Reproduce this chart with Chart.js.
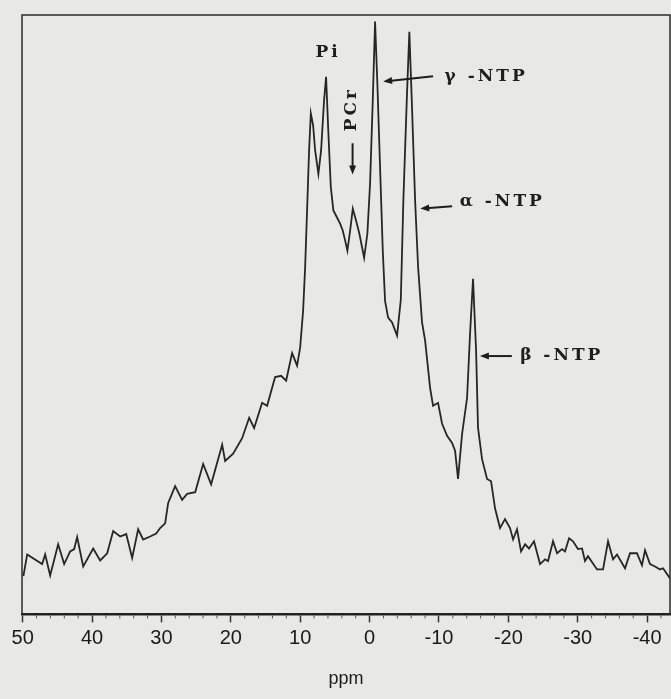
<!DOCTYPE html>
<html>
<head>
<meta charset="utf-8">
<script src="https://cdn.jsdelivr.net/npm/chart.js@4.4.0/dist/chart.umd.min.js"></script>
<style>
  html, body { margin: 0; background: #e8e8e6; }
  #wrap { width: 671px; height: 699px; }
</style>
</head>
<body>
<div id="wrap"><canvas id="spec"></canvas></div>
<script>
// chemical shift (ppm) and signal intensity
const ppm = [49.9, 49.35, 47.2, 46.76, 46.04, 44.89, 44.02, 43.16, 42.58, 42.15, 41.28, 39.84, 38.83, 37.82,
  36.96, 35.95, 35.08, 34.22, 33.36, 32.64, 31.63, 30.76, 30.19, 29.47, 29.03, 28.03, 27.02, 26.3, 25.14,
  23.99, 22.84, 21.25, 20.82, 19.67, 18.37, 17.36, 16.64, 15.49, 14.77, 13.62, 12.75, 12.03, 11.17, 10.45,
  10.01, 9.58, 9.29, 8.96, 8.72, 8.47, 8.14, 7.85, 7.38, 6.99, 6.56, 6.27, 5.94, 5.59, 5.22, 4.73, 4.25,
  3.86, 3.53, 3.2, 2.81, 2.42, 1.95, 1.47, 0.79, 0.32, -0.07, -0.46, -0.79, -1.12, -1.51, -1.9, -2.23,
  -2.67, -3.24, -3.96, -4.5, -4.87, -5.36, -5.73, -6.08, -6.56, -6.99, -7.56, -8.0, -8.72, -9.15, -9.87,
  -10.45, -11.17, -11.89, -12.32, -12.75, -13.33, -14.05, -14.48, -14.91, -15.35, -15.63, -16.21, -16.93,
  -17.51, -18.08, -18.8, -19.52, -20.24, -20.68, -21.25, -21.83, -22.41, -22.98, -23.7, -24.57, -25.29,
  -25.72, -26.44, -27.02, -27.74, -28.17, -28.75, -29.32, -30.04, -30.62, -31.05, -31.48, -32.78, -33.65,
  -34.37, -35.09, -35.66, -36.82, -37.54, -38.54, -39.26, -39.7, -40.42, -41.14, -41.86, -42.3, -43.3];
const intensity = [6.4, 10.0, 8.4, 10.0, 6.5, 11.7, 8.4, 10.5, 10.9, 12.9, 8.0, 11.0, 9.0, 10.2,
  13.9, 13.0, 13.4, 9.4, 14.2, 12.5, 13.0, 13.5, 14.4, 15.2, 18.6, 21.4, 19.1, 20.1, 20.4,
  25.1, 21.7, 28.3, 25.6, 26.8, 29.4, 32.8, 31.1, 35.3, 34.8, 39.6, 39.8, 39.0, 43.6, 41.5,
  44.5, 50.7, 57.9, 69.1, 77.4, 83.6, 81.6, 77.4, 73.5, 77.4, 85.8, 89.7, 80.3, 71.3, 67.4, 66.3, 65.2,
  64.0, 62.4, 60.7, 64.0, 67.7, 65.7, 63.5, 59.5, 63.5, 71.9, 85.8, 98.9, 88.6, 74.6, 60.7, 52.3,
  49.5, 48.7, 46.5, 52.5, 69.1, 85.8, 97.2, 85.8, 69.1, 58.0, 48.7, 45.7, 37.8, 34.8, 35.3,
  31.8, 29.8, 28.6, 27.3, 22.6, 30.1, 36.1, 46.8, 56.0, 44.0, 31.1, 25.9, 22.6,
  22.2, 17.7, 14.4, 15.9, 14.4, 12.5, 14.2, 10.5, 11.7, 11.0, 12.2, 8.4, 9.2,
  8.9, 12.2, 10.2, 10.9, 10.5, 12.7, 12.2, 10.9, 11.0, 8.9, 9.7, 7.5, 7.5,
  12.2, 9.2, 10.0, 7.7, 10.2, 10.2, 8.2, 10.7, 8.4, 8.0, 7.5, 7.7, 6.0];
const xTicks = [50, 40, 30, 20, 10, 0, -10, -20, -30, -40];

// peak labels and arrows, in ppm / intensity
const notes = [
  { text: 'Pi', x: 5.98, y: 93.8, rot: 0, align: 'center' },
  { text: 'PCr', x: 2.6, y: 84.3, rot: -Math.PI / 2, align: 'center' },
  { text: 'γ -NTP', x: -10.8, y: 89.8, rot: 0, align: 'left' },
  { text: 'α -NTP', x: -13.0, y: 68.9, rot: 0, align: 'left' },
  { text: 'β -NTP', x: -21.7, y: 43.1, rot: 0, align: 'left' }
];
const arrows = [
  [[2.45, 78.6], [2.45, 73.4]],
  [[-9.15, 89.8], [-1.95, 88.9]],
  [[-11.9, 68.1], [-7.3, 67.7]],
  [[-20.5, 43.1], [-15.9, 43.1]]
];

const frame = {
  id: 'frame',
  afterDraw(chart) {
    const { ctx, chartArea: a, scales: { x, y } } = chart;
    ctx.save();
    ctx.strokeStyle = '#2b2b2b';
    ctx.lineWidth = 1.5;
    ctx.beginPath();
    ctx.moveTo(a.left, a.bottom);
    ctx.lineTo(a.left, a.top);
    ctx.lineTo(a.right, a.top);
    ctx.lineTo(a.right, a.bottom);
    ctx.stroke();

    // minor ticks every 2 ppm
    ctx.lineWidth = 1;
    ctx.strokeStyle = '#555';
    for (let v = -42; v <= 50; v += 2) {
      if (v % 10 === 0) continue;
      const px = x.getPixelForValue(v);
      ctx.beginPath();
      ctx.moveTo(px, a.bottom + 1);
      ctx.lineTo(px, a.bottom + 4);
      ctx.stroke();
    }

    ctx.fillStyle = '#1e1e1e';
    ctx.strokeStyle = '#1e1e1e';
    ctx.lineWidth = 2;
    arrows.forEach(([from, to]) => {
      const x0 = x.getPixelForValue(from[0]), y0 = y.getPixelForValue(from[1]);
      const x1 = x.getPixelForValue(to[0]), y1 = y.getPixelForValue(to[1]);
      const ang = Math.atan2(y1 - y0, x1 - x0);
      ctx.beginPath();
      ctx.moveTo(x0, y0);
      ctx.lineTo(x1 - 6 * Math.cos(ang), y1 - 6 * Math.sin(ang));
      ctx.stroke();
      ctx.beginPath();
      ctx.moveTo(x1, y1);
      ctx.lineTo(x1 - 9 * Math.cos(ang) + 3.5 * Math.sin(ang), y1 - 9 * Math.sin(ang) - 3.5 * Math.cos(ang));
      ctx.lineTo(x1 - 9 * Math.cos(ang) - 3.5 * Math.sin(ang), y1 - 9 * Math.sin(ang) + 3.5 * Math.cos(ang));
      ctx.closePath();
      ctx.fill();
    });

    ctx.font = 'bold 17px "DejaVu Serif"';
    ctx.letterSpacing = '3px';
    ctx.textBaseline = 'middle';
    notes.forEach(n => {
      ctx.save();
      ctx.translate(x.getPixelForValue(n.x), y.getPixelForValue(n.y));
      ctx.rotate(n.rot);
      ctx.textAlign = n.align;
      ctx.fillText(n.text, 0, 0);
      ctx.restore();
    });
    ctx.restore();
  }
};

new Chart(document.getElementById('spec'), {
  type: 'line',
  data: {
    datasets: [{
      data: ppm.map((v, i) => ({ x: v, y: intensity[i] })),
      borderColor: '#262626',
      borderWidth: 1.8,
      pointRadius: 0,
      tension: 0,
      fill: false
    }]
  },
  options: {
    responsive: true,
    maintainAspectRatio: false,
    animation: false,
    layout: { padding: { left: 22, right: 1, top: 15, bottom: 0 } },
    plugins: { legend: { display: false }, tooltip: { enabled: false } },
    scales: {
      x: {
        type: 'linear',
        reverse: true,
        min: -43.3,
        max: 50.1,
        afterBuildTicks: s => { s.ticks = xTicks.map(v => ({ value: v })); },
        grid: { drawOnChartArea: false, drawTicks: true, tickLength: 8, tickColor: '#333', tickWidth: 1.5 },
        border: { display: true, color: '#222', width: 2.5 },
        ticks: { autoSkip: false, maxRotation: 0, padding: 4, color: '#1a1a1a',
                 font: { family: '"Liberation Sans", Arial, sans-serif', size: 20 } },
        title: { display: true, text: 'ppm', color: '#1a1a1a', padding: { top: 14, bottom: 9 },
                 font: { family: '"Liberation Sans", Arial, sans-serif', size: 18 } }
      },
      y: { display: false, min: 0, max: 100 }
    }
  },
  plugins: [frame]
});
</script>
</body>
</html>
